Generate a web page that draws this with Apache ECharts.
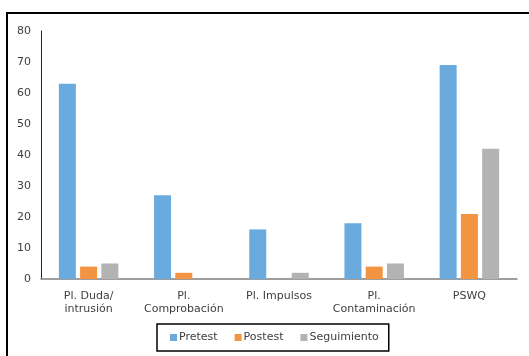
<!DOCTYPE html>
<html>
<head>
<meta charset="utf-8">
<script src="https://cdn.jsdelivr.net/npm/echarts@6/dist/echarts.min.js"></script>
<style>
  html, body { margin: 0; padding: 0; background: #fff; }
  #chart { width: 529px; height: 356px; }
</style>
</head>
<body>
<div id="chart"></div>
<script>
const categories = ['Pl. Duda/\nintrusión', 'Pl.\nComprobación', 'Pl. Impulsos', 'Pl.\nContaminación', 'PSWQ'];
const pretest = [63, 27, 16, 18, 69];
const postest = [4, 2, 0, 4, 21];
const seguimiento = [5, 0, 2, 5, 42];
const yTicks = { min: 0, max: 80, interval: 10 };

const font = 'DejaVu Sans';
const chart = echarts.init(document.getElementById('chart'), null, { renderer: 'canvas' });

function bar(name, data, color) {
  return {
    name: name,
    type: 'bar',
    data: data,
    barWidth: 17,
    barGap: '25%',
    itemStyle: { color: color },
    emphasis: { disabled: true }
  };
}

chart.setOption({
  animation: false,
  textStyle: { fontFamily: font },
  graphic: [{
    type: 'rect',
    shape: { x: 7, y: 13, width: 530, height: 350 },
    style: { fill: 'none', stroke: '#000', lineWidth: 2 }
  }],
  grid: { left: 41, right: 12, top: 31, bottom: 77 },
  xAxis: {
    type: 'category',
    data: categories,
    axisTick: { show: false },
    axisLine: { lineStyle: { color: '#7f7f7f', width: 1.5 } },
    axisLabel: { color: '#404040', fontSize: 11, fontFamily: font, lineHeight: 13, margin: 11, interval: 0 }
  },
  yAxis: {
    type: 'value',
    min: yTicks.min,
    max: yTicks.max,
    interval: yTicks.interval,
    splitLine: { show: false },
    axisTick: { show: false },
    axisLine: { show: true, lineStyle: { color: '#222', width: 1 } },
    axisLabel: { color: '#404040', fontSize: 11, fontFamily: font, margin: 10 }
  },
  legend: {
    left: 157,
    top: 324,
    itemWidth: 7,
    itemHeight: 7,
    itemGap: 17,
    icon: 'rect',
    padding: [8, 10, 8, 13],
    borderColor: '#000',
    borderWidth: 1.5,
    textStyle: { color: '#404040', fontSize: 11, fontFamily: font, padding: [0, 0, 0, -3] },
    data: ['Pretest', 'Postest', 'Seguimiento']
  },
  series: [
    bar('Pretest', pretest, '#6aaadd'),
    bar('Postest', postest, '#f29441'),
    bar('Seguimiento', seguimiento, '#b3b3b3')
  ]
});
</script>
</body>
</html>
